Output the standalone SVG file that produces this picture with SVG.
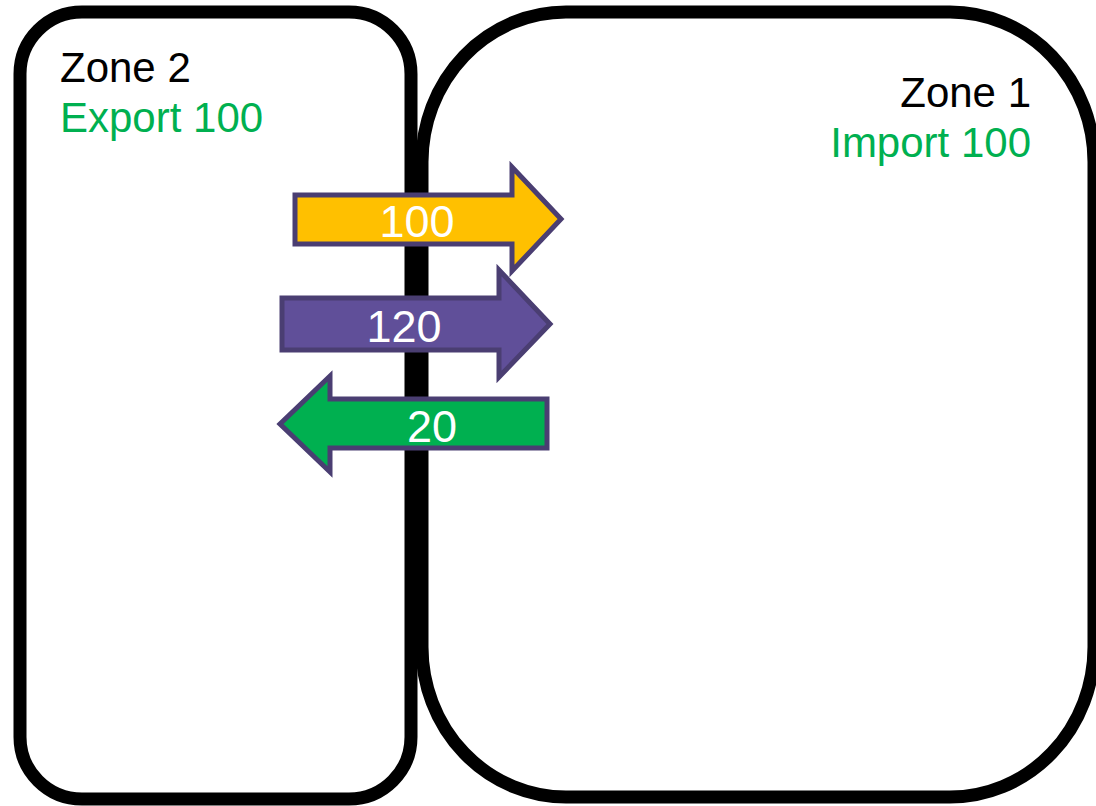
<svg xmlns="http://www.w3.org/2000/svg" width="1096" height="806" viewBox="0 0 1096 806">
  <style>
    .zone { fill: #ffffff; stroke: #000000; stroke-width: 13; }
    .label { font-family: "Liberation Sans", Arial, sans-serif; font-size: 42px; }
    .title { fill: #000000; }
    .flow { fill: #00B050; }
    .arrow { stroke: #4A3E72; stroke-width: 5; stroke-linejoin: miter; }
    .num { font-family: "Liberation Sans", Arial, sans-serif; font-size: 45px; fill: #ffffff; text-anchor: middle; }
  </style>
  <rect width="1096" height="806" fill="#ffffff"/>

  <g id="zone2">
    <rect class="zone" x="20" y="12" width="391" height="787" rx="62" ry="62"/>
    <text class="label title" x="60" y="82">Zone 2</text>
    <text class="label flow" x="60" y="132">Export 100</text>
  </g>

  <g id="zone1">
    <rect class="zone" x="422" y="12" width="672" height="785" rx="144" ry="150"/>
    <text class="label title" x="1031" y="107" text-anchor="end">Zone 1</text>
    <text class="label flow" x="1031" y="157" text-anchor="end">Import 100</text>
  </g>

  <g id="connectors">
    <g id="flow-100">
      <path class="arrow" fill="#FFC000" d="M295,195 H512 V167 L561,219 L512,271 V244 H295 Z"/>
      <text class="num" x="417" y="237">100</text>
    </g>
    <g id="flow-120">
      <path class="arrow" fill="#604F99" d="M282,298 H499 V270 L550,324 L499,377 V350 H282 Z"/>
      <text class="num" x="404" y="342">120</text>
    </g>
    <g id="flow-20">
      <path class="arrow" fill="#00B050" d="M547,399 H330 V376 L280,424 L330,472 V448 H547 Z"/>
      <text class="num" x="432" y="442">20</text>
    </g>
  </g>
</svg>
